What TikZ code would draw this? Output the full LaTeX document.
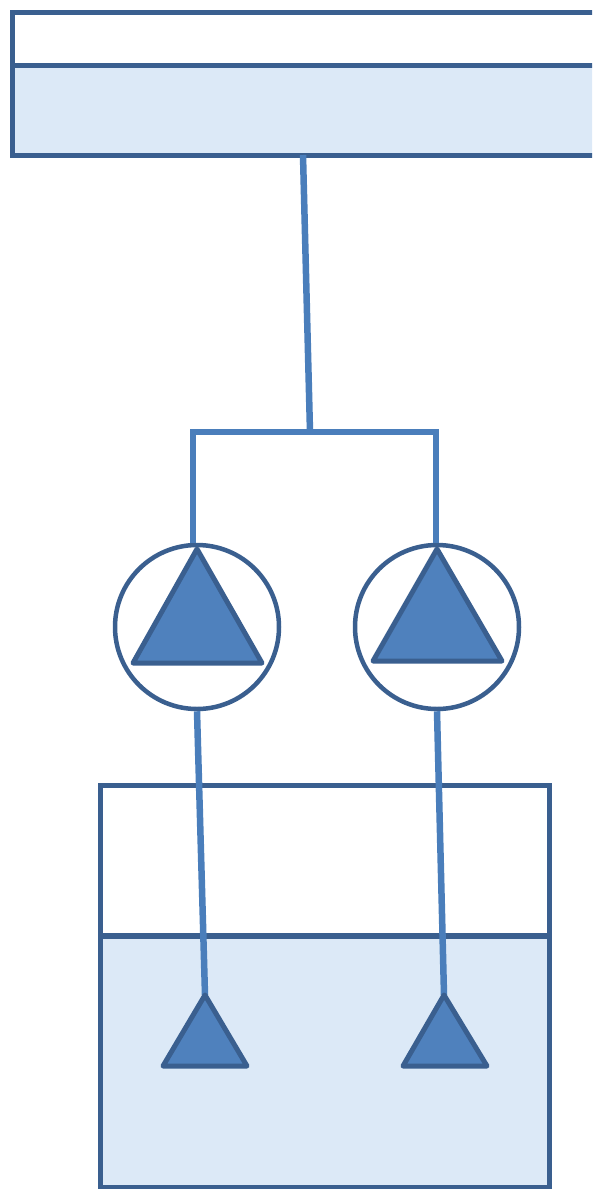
\documentclass[tikz,border=0pt]{standalone}
\usetikzlibrary{positioning,calc}
\definecolor{edge}{HTML}{3A5F8F}
\definecolor{pipeblue}{HTML}{4A7EBB}
\definecolor{water}{HTML}{DCE9F7}
\definecolor{pumpfill}{HTML}{4F81BD}
\begin{document}
\begin{tikzpicture}[x=1pt,y=-1pt,
  wall/.style={line width=5, color=edge},
  pipe/.style={line width=6.5, color=pipeblue},
  pumpbody/.style={circle, draw=edge, line width=4.5, fill=white, minimum size=164, inner sep=0},
  tri/.style={line width=5, draw=edge, fill=pumpfill, line join=round}]
\clip (0,0) rectangle (592,1189);
% upper basin
\fill[water] (12,65) rectangle (600,155);
\draw[wall] (600,12) -- (12,12) -- (12,155) -- (600,155);
\draw[wall] (12,65) -- (600,65);
% lower tank
\fill[water] (100,936) rectangle (549,1187);
\draw[wall] (100,785) rectangle (549,1187);
\draw[wall, line width=6.5] (100,936) -- (549,936);
% pipe points and pumps
\coordinate (outlet) at (303,155);
\coordinate (tee) at (310,432);
\coordinate (teeL) at (193,432);
\coordinate (teeR) at (436,432);
\coordinate (footA) at (205,995);
\coordinate (footB) at (444,995);
\node[pumpbody] (pumpA) at (197,627) {};
\node[pumpbody] (pumpB) at (437,627) {};
\draw[pipe] (outlet) -- (tee);
\draw[pipe] (pumpA.north -| teeL) -- (teeL) -- (teeR) -- (pumpB.north -| teeR);
\draw[pipe] (pumpA.south) -- (footA);
\draw[pipe] (pumpB.south) -- (footB);
% pump triangles
\draw[tri] ($(pumpA)+(0,-78)$) -- ($(pumpA)+(-64,36)$) -- ($(pumpA)+(65,36)$) -- cycle;
\draw[tri] ($(pumpB)+(0,-78)$) -- ($(pumpB)+(-64,34)$) -- ($(pumpB)+(65,34)$) -- cycle;
% foot valves
\draw[tri] (footA) -- ($(footA)+(-42,71)$) -- ($(footA)+(42,71)$) -- cycle;
\draw[tri] (footB) -- ($(footB)+(-41,71)$) -- ($(footB)+(43,71)$) -- cycle;
\end{tikzpicture}
\end{document}
